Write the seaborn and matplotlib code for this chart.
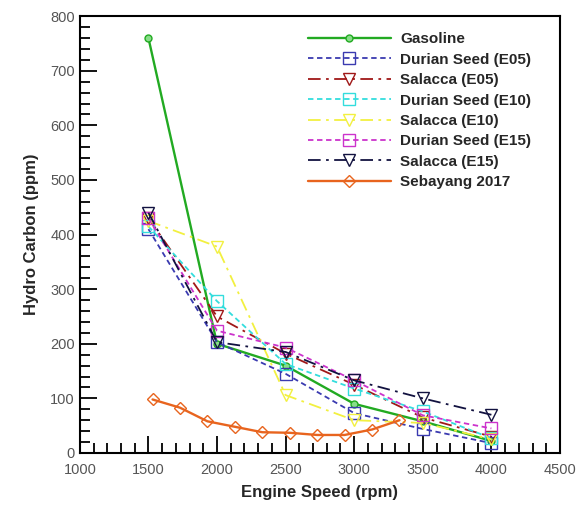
import numpy as np
import pandas as pd
import matplotlib.pyplot as plt
import seaborn as sns
from matplotlib.ticker import MultipleLocator

# engine speeds (rpm) for the measured fuels
rpm = [1500, 2000, 2500, 3000, 3500, 4000]

gasoline = [760, 200, 160, 90, 58, 22]
durian_e05 = [410, 203, 145, 73, 44, 18]
salacca_e05 = [430, 250, 182, 125, 65, 30]
durian_e10 = [415, 278, 163, 118, 76, 27]
salacca_e10 = [425, 378, 106, 60, 55, 25]
durian_e15 = [430, 224, 193, 133, 69, 45]
salacca_e15 = [440, 203, 185, 133, 100, 70]

# reference data (Sebayang 2017)
rpm_seb = [1530, 1730, 1930, 2130, 2330, 2530, 2730, 2930, 3130, 3330]
sebayang = [98, 83, 58, 48, 38, 37, 33, 33, 43, 60]

sns.set_theme(style="ticks")
plt.rcParams['font.family'] = ['Liberation Sans', 'DejaVu Sans']

dash_short = (3, 2)
dash_dot = (7, 3, 1.5, 3)

series = [
    ("Gasoline", rpm, gasoline, "#22aa22", "", "o", 5, "#88dd88"),
    ("Durian Seed (E05)", rpm, durian_e05, "#3a3ab0", dash_short, "s", 9, "none"),
    ("Salacca (E05)", rpm, salacca_e05, "#a01818", dash_dot, "v", 9, "none"),
    ("Durian Seed (E10)", rpm, durian_e10, "#33dddd", dash_short, "s", 9, "none"),
    ("Salacca (E10)", rpm, salacca_e10, "#f2f040", dash_dot, "v", 9, "none"),
    ("Durian Seed (E15)", rpm, durian_e15, "#cc33cc", dash_short, "s", 9, "none"),
    ("Salacca (E15)", rpm, salacca_e15, "#121240", dash_dot, "v", 9, "none"),
    ("Sebayang 2017", rpm_seb, sebayang, "#e8641e", "", "D", 6.5, "none"),
]

fig = plt.figure(figsize=(5.87, 5.05), dpi=100)
ax = fig.add_axes([0.136, 0.103, 0.818, 0.865])

for name, xs, ys, color, dash, marker, ms, mfc in series:
    df = pd.DataFrame({"rpm": xs, "hc": ys})
    sns.lineplot(data=df, x="rpm", y="hc", ax=ax, color=color, label=name,
                 marker=marker, markersize=ms, markerfacecolor=mfc,
                 markeredgecolor=color, markeredgewidth=1.0,
                 linewidth=1.7 if dash == "" else 1.3)
    if dash != "":
        ax.lines[-1].set_dashes(dash)

ax.set_xlim(1000, 4500)
ax.set_ylim(0, 800)
ax.xaxis.set_major_locator(MultipleLocator(500))
ax.xaxis.set_minor_locator(MultipleLocator(100))
ax.yaxis.set_major_locator(MultipleLocator(100))
ax.yaxis.set_minor_locator(MultipleLocator(20))
ax.tick_params(which='both', direction='in', top=False, right=False,
               labelsize=10.5, labelcolor='#555555', color='black', width=1.3)
ax.tick_params(which='major', length=12)
ax.tick_params(which='minor', length=7)
ax.tick_params(axis='x', pad=7)
for sp in ax.spines.values():
    sp.set_linewidth(1.5)
    sp.set_color('black')

ax.set_xlabel("Engine Speed (rpm)", fontsize=12, fontweight='bold', labelpad=6)
ax.set_ylabel("Hydro Carbon (ppm)", fontsize=12, fontweight='bold', labelpad=8)

ax.legend(loc='upper left', bbox_to_anchor=(0.4625, 0.977), borderaxespad=0,
          frameon=False, handlelength=5.4, handletextpad=0.65,
          labelspacing=0.42, prop={'size': 11, 'weight': 'bold'})

fig.savefig("out.png", dpi=100)
